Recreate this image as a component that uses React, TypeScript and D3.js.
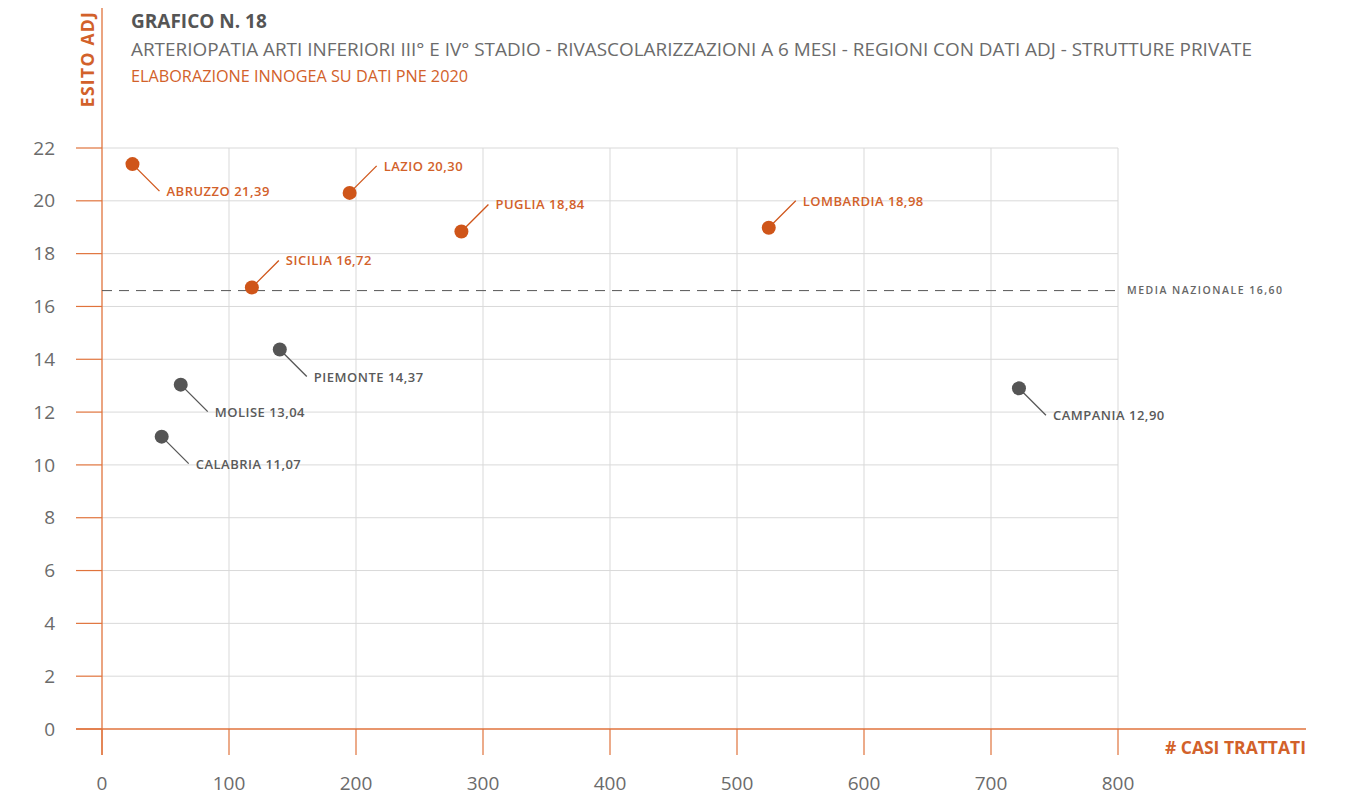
import React, { useEffect } from "react";
import * as d3 from "d3";

const regions = ["ABRUZZO", "LAZIO", "PUGLIA", "LOMBARDIA", "SICILIA", "PIEMONTE", "MOLISE", "CALABRIA", "CAMPANIA"];
const casi = [24, 195, 283, 525, 118, 140, 62, 47, 722];
const esito = [21.39, 20.3, 18.84, 18.98, 16.72, 14.37, 13.04, 11.07, 12.9];
const aboveMedia = [true, true, true, true, true, false, false, false, false];
const labelUp = [false, true, true, true, true, false, false, false, false];
const mediaNazionale = 16.6;
const xTicks = [0, 100, 200, 300, 400, 500, 600, 700, 800];
const yTicks = [0, 2, 4, 6, 8, 10, 12, 14, 16, 18, 20, 22];

const W = 1348;
const H = 797;
const ORANGE = "#cf5519";
const ORANGE_TXT = "#d2612a";
const AXIS = "#e0733c";
const GRAY = "#555555";
const FONT = "'Open Sans', 'Noto Sans', sans-serif";

const fmt = (v: number) => v.toFixed(2).replace(".", ",");

export default function App() {
  useEffect(() => {
    document.body.style.margin = "0";
  }, []);

  const x = d3.scaleLinear().domain([0, 800]).range([102, 1118]);
  const y = d3.scaleLinear().domain([0, 22]).range([729, 148]);

  return (
    <svg width={W} height={H} style={{ display: "block", background: "#fff" }} fontFamily={FONT}>
      {/* title */}
      <text x={131} y={28} fontSize={19} fontWeight={700} fill={GRAY}>GRAFICO N. 18</text>
      <text x={131} y={56} fontSize={19} fill="#6b6b6b" textLength={1121} lengthAdjust="spacingAndGlyphs">
        ARTERIOPATIA ARTI INFERIORI III° E IV° STADIO - RIVASCOLARIZZAZIONI A 6 MESI - REGIONI CON DATI ADJ - STRUTTURE PRIVATE
      </text>
      <text x={131} y={82} fontSize={17} fill={ORANGE_TXT} textLength={337} lengthAdjust="spacingAndGlyphs">
        ELABORAZIONE INNOGEA SU DATI PNE 2020
      </text>

      {/* y axis title */}
      <text
        transform="translate(94,59) rotate(-90)"
        textAnchor="middle"
        fontSize={17.5}
        fontWeight={700}
        fill={ORANGE_TXT}
        letterSpacing={1.3}
      >
        ESITO ADJ
      </text>

      {/* gridlines */}
      {yTicks.filter((t) => t > 0).map((t) => (
        <line key={"gy" + t} x1={x(0)} x2={x(800)} y1={y(t)} y2={y(t)} stroke="#d9d9d9" strokeWidth={1} />
      ))}
      {xTicks.filter((t) => t > 0).map((t) => (
        <line key={"gx" + t} x1={x(t)} x2={x(t)} y1={y(22)} y2={y(0)} stroke="#d9d9d9" strokeWidth={1} />
      ))}

      {/* y ticks */}
      {yTicks.map((t) => (
        <g key={"yt" + t}>
          <line x1={76} x2={x(0)} y1={y(t)} y2={y(t)} stroke={AXIS} strokeWidth={1.2} />
          <text x={55} y={y(t)} dy="0.35em" textAnchor="end" fontSize={19} fill="#6b6b6b">{t}</text>
        </g>
      ))}
      {/* x ticks */}
      {xTicks.map((t) => (
        <g key={"xt" + t}>
          <line x1={x(t)} x2={x(t)} y1={y(0)} y2={755} stroke={AXIS} strokeWidth={1.2} />
          <text x={x(t)} y={790} textAnchor="middle" fontSize={19} fill="#6b6b6b">{t}</text>
        </g>
      ))}

      {/* axes */}
      <line x1={x(0)} x2={x(0)} y1={8} y2={755} stroke={AXIS} strokeWidth={1.3} />
      <line x1={76} x2={1306} y1={y(0)} y2={y(0)} stroke={AXIS} strokeWidth={1.3} />
      <text x={1306} y={754} textAnchor="end" fontSize={17.5} fontWeight={700} fill={ORANGE_TXT}># CASI TRATTATI</text>

      {/* media nazionale */}
      <line x1={x(0)} x2={x(800)} y1={y(mediaNazionale)} y2={y(mediaNazionale)} stroke={GRAY} strokeWidth={1} strokeDasharray="10,7" />
      <text x={1127} y={y(mediaNazionale)} dy="0.35em" fontSize={10.5} fontWeight={600} fill="#666" letterSpacing={1.5}>
        MEDIA NAZIONALE {fmt(mediaNazionale)}
      </text>

      {/* points */}
      {regions.map((r, i) => {
        const cx = x(casi[i]);
        const cy = y(esito[i]);
        const up = labelUp[i];
        const col = aboveMedia[i] ? ORANGE : "#555";
        const tcol = aboveMedia[i] ? ORANGE_TXT : "#5a5a5a";
        const dy = up ? -27 : 27;
        return (
          <g key={r}>
            <line x1={cx} y1={cy} x2={cx + 27} y2={cy + dy} stroke={col} strokeWidth={1.3} />
            <circle cx={cx} cy={cy} r={7} fill={col} />
            <text x={cx + 34} y={cy + dy + 5} fontSize={13} fontWeight={600} fill={tcol} letterSpacing={0.5}>
              {r} {fmt(esito[i])}
            </text>
          </g>
        );
      })}
    </svg>
  );
}
